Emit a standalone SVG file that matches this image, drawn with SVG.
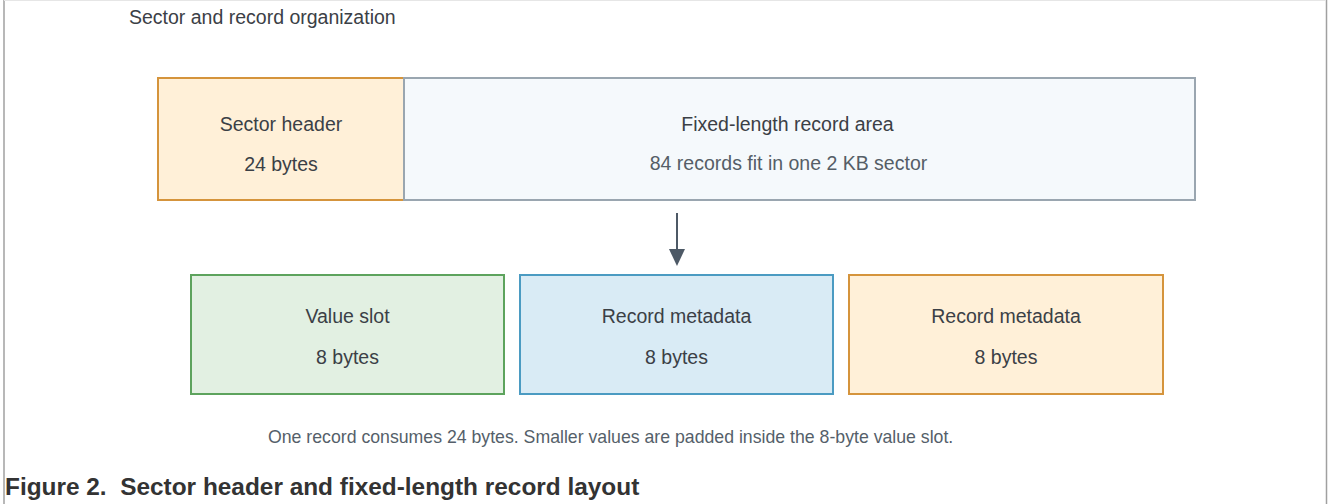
<svg xmlns="http://www.w3.org/2000/svg" width="1328" height="504" viewBox="0 0 1328 504">
<style>
  text { font-family: "Liberation Sans", Arial, sans-serif; }
  .t { font-size: 19.5px; fill: #3b4046; text-anchor: middle; }
  .sub { font-size: 19.5px; fill: #555e67; text-anchor: middle; }
  .orange { fill: #fff0d8; stroke: #d5943c; stroke-width: 2; }
  .grey { fill: #f5f9fc; stroke: #9aa6b0; stroke-width: 2; }
  .green { fill: #e2f0e2; stroke: #5da35d; stroke-width: 2; }
  .blue { fill: #d9ebf5; stroke: #4b9bc2; stroke-width: 2; }
  .frame { stroke: #a0a0a0; stroke-width: 1.5; fill: none; }
</style>
<rect x="0" y="0" width="1328" height="504" fill="#ffffff"/>
<line class="frame" x1="4" y1="0" x2="4" y2="504"/>
<line class="frame" x1="1326.5" y1="0" x2="1326.5" y2="504"/>
<line x1="4" y1="0.5" x2="1326" y2="0.5" stroke="#e6e6e6" stroke-width="1"/>

<text x="129" y="24" style="font-size:19.5px;fill:#3b4046">Sector and record organization</text>

<g id="sector-header">
  <rect class="orange" x="158" y="78" width="246" height="122"/>
  <text class="t" x="281" y="130.5">Sector header</text>
  <text class="t" x="281" y="170.5">24 bytes</text>
</g>
<g id="record-area">
  <rect class="grey" x="404" y="78" width="791" height="122"/>
  <text class="t" x="787.5" y="130.5">Fixed-length record area</text>
  <text class="sub" x="788.5" y="170">84 records fit in one 2 KB sector</text>
</g>

<g id="connectors">
  <line x1="677" y1="213" x2="677" y2="251" stroke="#4d5966" stroke-width="2"/>
  <polygon points="669,249 685,249 677,266" fill="#4d5966"/>
</g>

<g id="value-slot">
  <rect class="green" x="191" y="275" width="313" height="119"/>
  <text class="t" x="347.5" y="323.3">Value slot</text>
  <text class="t" x="347.5" y="364">8 bytes</text>
</g>
<g id="record-metadata-1">
  <rect class="blue" x="520" y="275" width="313" height="119"/>
  <text class="t" x="676.5" y="323.3">Record metadata</text>
  <text class="t" x="676.5" y="364">8 bytes</text>
</g>
<g id="record-metadata-2">
  <rect class="orange" x="849" y="275" width="314" height="119"/>
  <text class="t" x="1006" y="323.3">Record metadata</text>
  <text class="t" x="1006" y="364">8 bytes</text>
</g>

<text x="268" y="443" style="font-size:17.7px;fill:#555f6a">One record consumes 24 bytes. Smaller values are padded inside the 8-byte value slot.</text>

<text x="5" y="494.5" style="font-size:24.4px;font-weight:bold;fill:#333333;white-space:pre" xml:space="preserve">Figure 2.  Sector header and fixed-length record layout</text>
</svg>
